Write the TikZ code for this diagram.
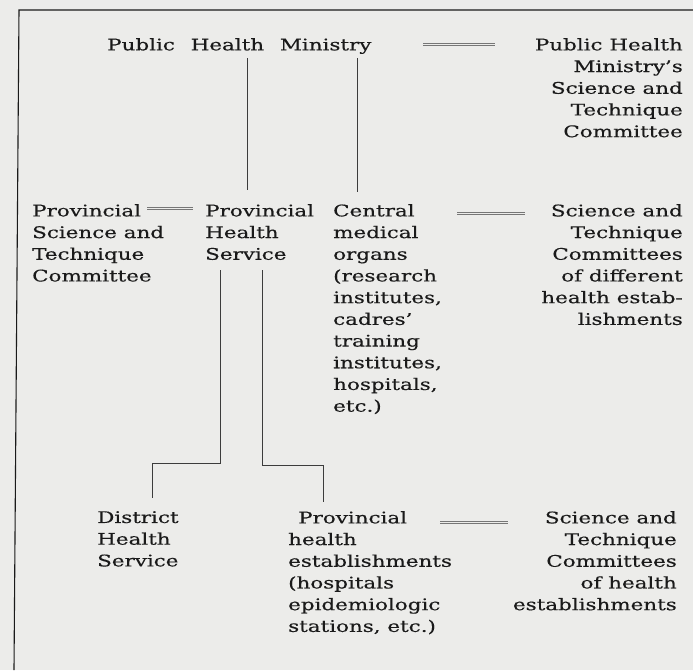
\documentclass[tikz,border=0pt]{standalone}
\usepackage{fontspec}
\setmainfont[FakeStretch=1.34, FakeBold=0.4]{DejaVu Serif}
\usepackage{tikz}
\usetikzlibrary{positioning}
\usepackage{xcolor}
\definecolor{paper}{HTML}{ECECEA}
\definecolor{ink}{HTML}{1A1A1A}

\begin{document}
\begin{tikzpicture}[x=1pt, y=-1pt,
  every node/.style={font=\fontsize{16}{21.7}\selectfont, text=ink, inner sep=0pt},
  box/.style={align=left, anchor=north west},
  rbox/.style={align=right, anchor=north east},
  link/.style={draw=ink!85, line width=0.8pt},
  dbl/.style={draw=ink!60, line width=0.7pt, preaction={draw=ink!60, line width=0.7pt, transform canvas={yshift=2pt}}}]

% Paper and frame
\fill[paper] (0,0) rectangle (693,670);
\useasboundingbox (0,0) rectangle (693,670);
\draw[ink, line width=1.1pt] (693,10) -- (19,10) -- (14,670);

% Ministry level
\node[box] at (107,38) (phm) {Public\hspace{9pt} Health\hspace{9pt} Ministry};
\node[rbox] at (683,38) (mstc) {Public Health\\Ministry’s\\Science and\\Technique\\Committee};

% Provincial level
\node[box] at (32,204) (pstc) {Provincial\\Science and\\Technique\\Committee};
\node[box] at (205,204) (phs) {Provincial\\Health\\Service};
\node[box] at (333,204) (cmo) {Central\\medical\\organs\\(research\\institutes,\\cadres’\\training\\institutes,\\hospitals,\\etc.)};
\node[rbox] at (683,204) (estc) {Science and\\Technique\\Committees\\of different\\health estab-\\lishments};

% District level
\node[box] at (97,511) (dhs) {District\\Health\\Service};
\node[box] at (288,511) (phe) {\hspace*{10pt}Provincial\\health\\establishments\\(hospitals\\epidemiologic\\stations, etc.)};
\node[rbox] at (677,511) (hstc) {Science and\\Technique\\Committees\\of health\\establishments};

% Ministry down to provincial level
\draw[link] ([xshift=140pt,yshift=-20pt]phm.north west) -- ([xshift=42pt,yshift=14pt]phs.north west);
\draw[link] ([xshift=250pt,yshift=-20pt]phm.north west) -- ([xshift=24pt,yshift=12pt]cmo.north west);

% Provincial service down to district level
\coordinate (j1) at (220,463);
\coordinate (j2) at (152,463);
\coordinate (j3) at (262,465);
\coordinate (j4) at (323,465);
\draw[link] ([xshift=15pt,yshift=-66pt]phs.north west) -- (j1) -- (j2) -- ([xshift=55pt,yshift=13pt]dhs.north west);
\draw[link] ([xshift=57pt,yshift=-66pt]phs.north west) -- (j3) -- (j4) -- ([xshift=35pt,yshift=9pt]phe.north west);

% Committees (double lines)
\draw[dbl] ([xshift=316pt,yshift=-7pt]phm.north west) -- ([xshift=-188pt,yshift=-7pt]mstc.north east);
\draw[dbl] ([xshift=115pt,yshift=-5pt]pstc.north west) -- ([xshift=-12pt,yshift=-5pt]phs.north west);
\draw[dbl] ([xshift=124pt,yshift=-10pt]cmo.north west) -- ([xshift=-158pt,yshift=-10pt]estc.north east);
\draw[dbl] ([xshift=152pt,yshift=-12pt]phe.north west) -- ([xshift=-169pt,yshift=-12pt]hstc.north east);
\end{tikzpicture}
\end{document}
